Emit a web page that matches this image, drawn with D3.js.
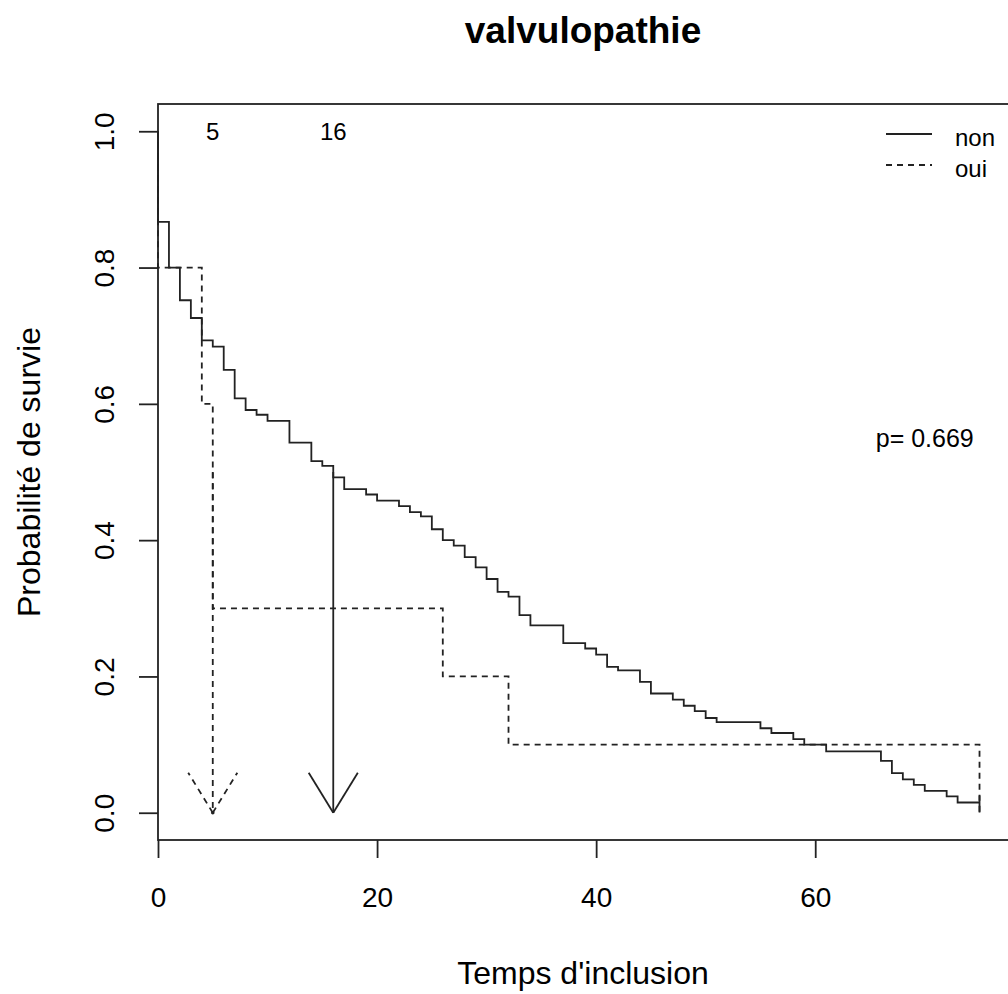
<!DOCTYPE html>
<html>
<head>
<meta charset="utf-8">
<script src="https://cdn.jsdelivr.net/npm/d3@7"></script>
<style>
  html, body { margin: 0; padding: 0; background: #fff; }
  svg { display: block; font-family: "Liberation Sans", Arial, sans-serif; }
</style>
</head>
<body>
<svg id="chart" width="1008" height="994"></svg>
<script>
// ---- data ----
const title = "valvulopathie";
const xLabel = "Temps d'inclusion";
const yLabel = "Probabilité de survie";
const groups = ["non", "oui"];

// group "non": event times and survival after each step
const nonTimes = [0, 0, 1, 2, 3, 4, 5, 6, 7, 8, 9, 10, 12, 14, 15, 16, 17, 19, 20, 22, 23, 24, 25, 26, 27, 28, 29, 30, 31, 32, 33, 34, 37, 39, 40, 41, 42, 44, 45, 47, 48, 49, 50, 51, 55, 56, 58, 59, 61, 66, 67, 68, 69, 70, 72, 73, 75];
const nonSurv  = [1.0, 0.867, 0.800, 0.752, 0.726, 0.693, 0.684, 0.650, 0.608, 0.591, 0.584, 0.575, 0.543, 0.516, 0.509, 0.492, 0.475, 0.467, 0.458, 0.450, 0.441, 0.435, 0.416, 0.400, 0.392, 0.375, 0.360, 0.343, 0.324, 0.317, 0.290, 0.275, 0.249, 0.241, 0.232, 0.214, 0.209, 0.192, 0.175, 0.166, 0.157, 0.149, 0.139, 0.133, 0.124, 0.117, 0.108, 0.100, 0.090, 0.076, 0.058, 0.049, 0.041, 0.032, 0.024, 0.015, 0.015];
const nonCensorTimes = [75];
const nonCensorSurv = [0.015];

// group "oui"
const ouiTimes = [0, 0, 4, 5, 26, 32, 75];
const ouiSurv  = [1.0, 0.8, 0.6, 0.3, 0.2, 0.1, 0.0];

// medians
const medianTimes = [16, 5];   // non, oui
const medianLevel = 0.5;
const medianLabels = ["16", "5"];

const pText = "p= 0.669";
const pPos = [70, 0.55];

const xTicks = [0, 20, 40, 60];
const yTicks = [0.0, 0.2, 0.4, 0.6, 0.8, 1.0];

// ---- layout / style ----
const svg = d3.select("#chart");
const L = 158, R = 1008, T = 104, B = 840;
const x = d3.scaleLinear().domain([0, 77.6]).range([L, R]);
const y = d3.scaleLinear().domain([-0.04, 1.04]).range([B, T]);
const ink = "#222";
const lw = 1.8;
const dash = "6,5";
const styles = [{dash: null}, {dash: dash}];
const font = "Liberation Sans, Arial, sans-serif";

// box
svg.append("rect")
  .attr("x", L).attr("y", T)
  .attr("width", R - L + 4).attr("height", B - T)
  .attr("fill", "none").attr("stroke", ink).attr("stroke-width", lw);

// x axis
const gx = svg.append("g").attr("transform", `translate(0,${B})`)
  .call(d3.axisBottom(x).tickValues(xTicks).tickSize(18).tickFormat(d3.format("d")));
gx.select(".domain").remove();
gx.selectAll(".tick line").attr("stroke", ink).attr("stroke-width", lw);
gx.selectAll(".tick text")
  .attr("y", 67).attr("dy", null)
  .attr("fill", "#000").attr("font-size", 28)
  .attr("font-family", font);

// y axis
const gy = svg.append("g").attr("transform", `translate(${L},0)`)
  .call(d3.axisLeft(y).tickValues(yTicks).tickSize(19).tickFormat(d3.format(".1f")));
gy.select(".domain").remove();
gy.selectAll(".tick line").attr("stroke", ink).attr("stroke-width", lw);
gy.selectAll(".tick text")
  .attr("x", null).attr("dy", null)
  .attr("transform", "translate(-44,0) rotate(-90)")
  .attr("text-anchor", "middle")
  .attr("fill", "#000").attr("font-size", 28)
  .attr("font-family", font);

// curves
const stepLine = d3.line().x(d => x(d[0])).y(d => y(d[1])).curve(d3.curveStepAfter);
const series = [d3.zip(nonTimes, nonSurv), d3.zip(ouiTimes, ouiSurv)];
series.forEach((s, i) => {
  svg.append("path")
    .attr("d", stepLine(s))
    .attr("fill", "none")
    .attr("stroke", ink)
    .attr("stroke-width", lw)
    .attr("stroke-dasharray", styles[i].dash);
});

// censor marks for "non"
svg.selectAll(".censor").data(d3.zip(nonCensorTimes, nonCensorSurv)).join("line")
  .attr("x1", d => x(d[0])).attr("x2", d => x(d[0]))
  .attr("y1", d => y(d[1]) - 7).attr("y2", d => y(d[1]) + 10)
  .attr("stroke", ink).attr("stroke-width", lw);

// median lines + arrows
const arrowLen = 47, arrowAng = 31.5 * Math.PI / 180;
medianTimes.forEach((t, i) => {
  const g = svg.append("g")
    .attr("fill", "none").attr("stroke", ink).attr("stroke-width", lw)
    .attr("stroke-dasharray", styles[i].dash);
  const tx = x(t), ty = y(0);
  g.append("line").attr("x1", tx).attr("x2", tx).attr("y1", y(medianLevel)).attr("y2", ty);
  [-1, 1].forEach(sgn => {
    g.append("line")
      .attr("x1", tx).attr("y1", ty)
      .attr("x2", tx + sgn * arrowLen * Math.sin(arrowAng))
      .attr("y2", ty - arrowLen * Math.cos(arrowAng));
  });
  if (styles[i].dash) {
    svg.append("circle").attr("cx", tx).attr("cy", ty).attr("r", 1.8).attr("fill", ink);
  }
  svg.append("text")
    .attr("x", tx).attr("y", y(1.0) + 8.5)
    .attr("text-anchor", "middle")
    .attr("font-size", 24).attr("fill", "#000")
    .text(medianLabels[i]);
});

// p-value
svg.append("text")
  .attr("x", x(pPos[0])).attr("y", y(pPos[1]) + 9)
  .attr("text-anchor", "middle")
  .attr("font-size", 25).attr("fill", "#000")
  .text(pText);

// legend
const legY = [134, 165];
groups.forEach((gname, i) => {
  svg.append("line")
    .attr("x1", 886).attr("x2", 932)
    .attr("y1", legY[i]).attr("y2", legY[i])
    .attr("stroke", ink).attr("stroke-width", lw)
    .attr("stroke-dasharray", styles[i].dash);
  svg.append("text")
    .attr("x", 955).attr("y", legY[i] + 12)
    .attr("font-size", 24).attr("fill", "#000")
    .text(gname);
});

// titles
svg.append("text")
  .attr("x", (L + R) / 2).attr("y", 43)
  .attr("text-anchor", "middle")
  .attr("font-size", 37).attr("font-weight", "bold").attr("fill", "#000")
  .text(title);

svg.append("text")
  .attr("x", (L + R) / 2).attr("y", 984)
  .attr("text-anchor", "middle")
  .attr("font-size", 32).attr("fill", "#000")
  .text(xLabel);

svg.append("text")
  .attr("transform", `translate(40,${(T + B) / 2}) rotate(-90)`)
  .attr("text-anchor", "middle")
  .attr("font-size", 32).attr("fill", "#000")
  .text(yLabel);
</script>
</body>
</html>
